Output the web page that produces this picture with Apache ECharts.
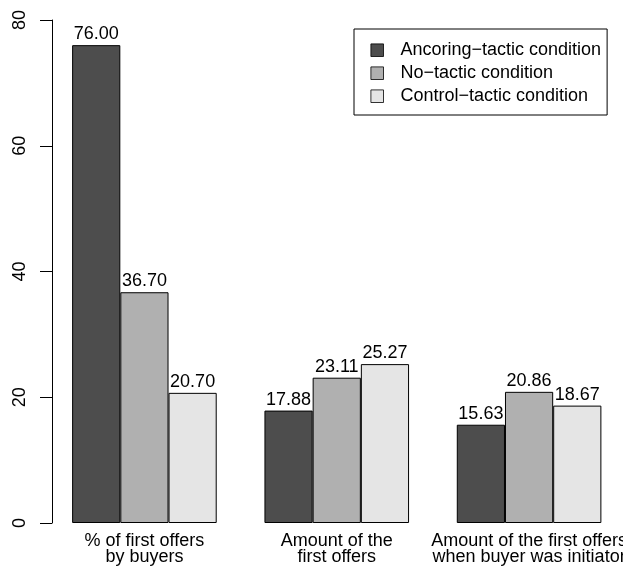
<!DOCTYPE html>
<html>
<head>
<meta charset="utf-8">
<script src="https://cdn.jsdelivr.net/npm/echarts@6/dist/echarts.min.js"></script>
<style>
html,body{margin:0;padding:0;background:#fff;}
#c{width:623px;height:567px;}
</style>
</head>
<body>
<div id="c"></div>
<script>
const categories = ["% of first offers\nby buyers", "Amount of the\nfirst offers", "Amount of the first offers\nwhen buyer was initiator"];
const seriesNames = ["Ancoring\u2212tactic condition", "No\u2212tactic condition", "Control\u2212tactic condition"];
const anchoring = [76.00, 17.88, 15.63];
const noTactic = [36.70, 23.11, 20.86];
const control = [20.70, 25.27, 18.67];
const yTicks = [0, 20, 40, 60, 80];

const colors = ["#4D4D4D", "#B0B0B0", "#E5E5E5"];
const FONT = "Liberation Sans, Arial, sans-serif";
const FS = 18;

const chart = echarts.init(document.getElementById('c'), null, {renderer: 'canvas'});
const dataSets = [anchoring, noTactic, control];
const option = {
  animation: false,
  backgroundColor: '#fff',
  textStyle: {fontFamily: FONT},
  grid: {left: 48.25, right: -2.25, top: 20, bottom: 44, containLabel: false, outerBoundsMode: 'none'},
  legend: {
    orient: 'vertical',
    left: 354, top: 29,
    padding: [12.2, 6, 9.8, 16.5],
    borderColor: '#000', borderWidth: 1,
    itemWidth: 12.6, itemHeight: 12.6, itemGap: 5,
    icon: 'rect',
    itemStyle: {borderWidth: 0.8},
    textStyle: {fontFamily: FONT, fontSize: FS, color: '#000', lineHeight: 18, padding: [0, 0, 0, 12]},
    data: seriesNames
  },
  xAxis: {
    type: 'category',
    data: categories,
    axisLine: {show: false},
    axisTick: {show: false},
    axisLabel: {interval: 0, margin: 10, color: '#000', fontFamily: FONT, fontSize: FS, lineHeight: 16, align: 'center'}
  },
  yAxis: {
    type: 'value',
    min: yTicks[0], max: yTicks[yTicks.length - 1], interval: 20,
    offset: -3.75,
    axisLine: {show: true, lineStyle: {color: '#000', width: 1}},
    axisTick: {show: true, length: 12, lineStyle: {color: '#000', width: 1}},
    splitLine: {show: false},
    axisLabel: {rotate: 90, margin: 23, color: '#000', fontFamily: FONT, fontSize: FS}
  },
  series: seriesNames.map((name, i) => ({
    name: name,
    type: 'bar',
    data: dataSets[i],
    barWidth: 48.2,
    barGap: '0%',
    itemStyle: {color: colors[i], borderColor: '#000', borderWidth: 1},
    label: {
      show: true, position: 'top', distance: 2,
      color: '#000', fontFamily: FONT, fontSize: FS,
      formatter: p => p.value.toFixed(2)
    }
  }))
};
chart.setOption(option);
</script>
</body>
</html>
